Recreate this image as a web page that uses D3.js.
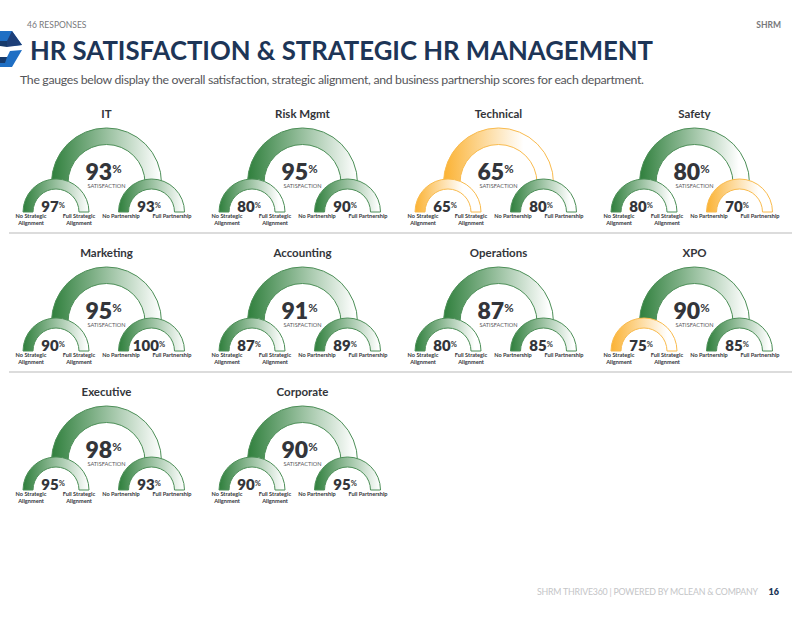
<!DOCTYPE html>
<html>
<head>
<meta charset="utf-8">
<script src="https://cdn.jsdelivr.net/npm/d3@7"></script>
<style>
  html, body { margin: 0; padding: 0; background: #fff; }
  svg { display: block; font-family: Lato, "Open Sans", sans-serif; }
</style>
</head>
<body>
<svg id="chart" width="800" height="617"></svg>
<script>
const departments = ["IT", "Risk Mgmt", "Technical", "Safety", "Marketing", "Accounting", "Operations", "XPO", "Executive", "Corporate"];
const satisfaction = [93, 95, 65, 80, 95, 91, 87, 90, 98, 90];
const alignment = [97, 80, 65, 80, 90, 87, 80, 75, 95, 90];
const partnership = [93, 90, 80, 70, 100, 89, 85, 85, 93, 95];
const alignmentLabels = [["No Strategic", "Alignment"], ["Full Strategic", "Alignment"]];
const partnershipLabels = [["No Partnership"], ["Full Partnership"]];

const svg = d3.select("#chart");
const defs = svg.append("defs");
const navy = "#1d3557";
const ink = "#33353a";

const colX = d3.scalePoint().domain(d3.range(4)).range([106.5, 694.5]);
const rowY = d3.scalePoint().domain(d3.range(3)).range([183, 461]);
const angle = d3.scaleLinear().domain([0, 100]).range([-Math.PI / 2, Math.PI / 2]);
const arc = d3.arc();

function tone(value) {
  return value >= 80
    ? { dark: "#2f7f3c", edge: "#4d8f58" }
    : { dark: "#fbb233", edge: "#f9bb4e" };
}

let gradId = 0;
function gauge(g, cx, cy, outer, inner, value) {
  const { dark, edge } = tone(value);
  const id = `fade-${gradId++}`;
  // gradient coords are local to the translated path; the fade ends at the value's x on the arch
  const grad = defs.append("linearGradient")
    .attr("id", id)
    .attr("gradientUnits", "userSpaceOnUse")
    .attr("x1", -outer).attr("x2", outer * Math.sin(angle(value)))
    .attr("y1", 0).attr("y2", 0);
  grad.append("stop").attr("offset", "0%").attr("stop-color", dark);
  grad.append("stop").attr("offset", "100%").attr("stop-color", "#fff");

  g.append("circle")
    .attr("cx", cx).attr("cy", cy).attr("r", outer)
    .attr("fill", "#fff");
  g.append("path")
    .attr("transform", `translate(${cx},${cy})`)
    .attr("d", arc({ innerRadius: inner, outerRadius: outer, startAngle: -Math.PI / 2, endAngle: Math.PI / 2 }))
    .attr("fill", `url(#${id})`)
    .attr("stroke", edge)
    .attr("stroke-width", 1);
}

function percent(g, x, y, value, size, ratio) {
  const t = g.append("text")
    .attr("x", x).attr("y", y)
    .attr("text-anchor", "middle")
    .attr("fill", ink)
    .attr("font-weight", 800)
    .attr("font-size", size)
    .text(value);
  t.append("tspan")
    .attr("font-size", size * ratio)
    .attr("font-weight", 700)
    .attr("dy", -size * 0.3)
    .text("%");
}

function caption(g, x, y, lines) {
  lines.forEach((line, i) => {
    g.append("text")
      .attr("x", x).attr("y", y + i * 7.2)
      .attr("text-anchor", "middle")
      .attr("fill", ink)
      .attr("font-size", 5.6)
      .attr("font-weight", 700)
      .text(line);
  });
}

departments.forEach((name, i) => {
  const cx = colX(i % 4);
  const cy = rowY(Math.floor(i / 4));
  const g = svg.append("g");

  g.append("text")
    .attr("x", cx).attr("y", cy - 65)
    .attr("text-anchor", "middle")
    .attr("fill", ink)
    .attr("font-size", 11.5)
    .attr("font-weight", 700)
    .text(name);

  gauge(g, cx, cy, 55, 38.5, satisfaction[i]);
  percent(g, cx - 3, cy - 3.5, satisfaction[i], 23, 0.5);
  g.append("text")
    .attr("x", cx).attr("y", cy + 5)
    .attr("text-anchor", "middle")
    .attr("fill", "#55565a")
    .attr("font-size", 5.6)
    .text("SATISFACTION");

  gauge(g, cx - 50.5, cy + 29, 33, 23, alignment[i]);
  percent(g, cx - 53.5, cy + 29, alignment[i], 15, 0.5);
  gauge(g, cx + 45, cy + 29, 33, 23, partnership[i]);
  percent(g, cx + 42.5, cy + 29, partnership[i], 15, 0.5);

  caption(g, cx - 75.5, cy + 35, alignmentLabels[0]);
  caption(g, cx - 27.5, cy + 35, alignmentLabels[1]);
  caption(g, cx + 14.5, cy + 35, partnershipLabels[0]);
  caption(g, cx + 65.5, cy + 35, partnershipLabels[1]);
});

// row separators
svg.selectAll("line.sep")
  .data([233, 372])
  .join("line")
  .attr("class", "sep")
  .attr("x1", 9).attr("x2", 792)
  .attr("y1", (d) => d).attr("y2", (d) => d)
  .attr("stroke", "#b9b9b9");

// header
svg.append("text").attr("x", 27).attr("y", 28)
  .attr("fill", "#77787b").attr("font-size", 8.5).text("46 RESPONSES");
svg.append("text").attr("x", 781).attr("y", 28).attr("text-anchor", "end")
  .attr("fill", "#77787b").attr("font-size", 8.5).attr("font-weight", 700).text("SHRM");
svg.append("text").attr("x", 30).attr("y", 60)
  .attr("fill", navy).attr("font-size", 27).attr("font-weight", 700)
  .attr("textLength", 623).attr("lengthAdjust", "spacingAndGlyphs")
  .text("HR SATISFACTION & STRATEGIC HR MANAGEMENT");
svg.append("text").attr("x", 20).attr("y", 84)
  .attr("fill", "#55565a").attr("font-size", 12.3)
  .attr("textLength", 624)
  .text("The gauges below display the overall satisfaction, strategic alignment, and business partnership scores for each department.");

// logo fragment at the page edge
const logo = svg.append("g");
[
  ["M0,31 L12,31 L22,45 L12,46 L7,41 L0,41 Z", "#1f6fc4"],
  ["M12,31 L22,45 L7,47 L7,41 Z", "#1d3f78"],
  ["M0,41 L7,41 L7,47 L0,46 Z", "#173a6b"],
  ["M0,57 L7,57 L10,51 L22,50 L12,67 L0,67 Z", "#1f6fc4"],
  ["M0,57 L7,57 L5,63 L0,63 Z", "#173a6b"]
].forEach(([d, fill]) => logo.append("path").attr("d", d).attr("fill", fill));

// footer
svg.append("text").attr("x", 758).attr("y", 595).attr("text-anchor", "end")
  .attr("fill", "#c4c5c7").attr("font-size", 8.8)
  .attr("textLength", 221)
  .text("SHRM THRIVE360 | POWERED BY MCLEAN & COMPANY");
svg.append("text").attr("x", 779).attr("y", 595).attr("text-anchor", "end")
  .attr("fill", navy).attr("font-size", 9).attr("font-weight", 800).text("16");
</script>
</body>
</html>
